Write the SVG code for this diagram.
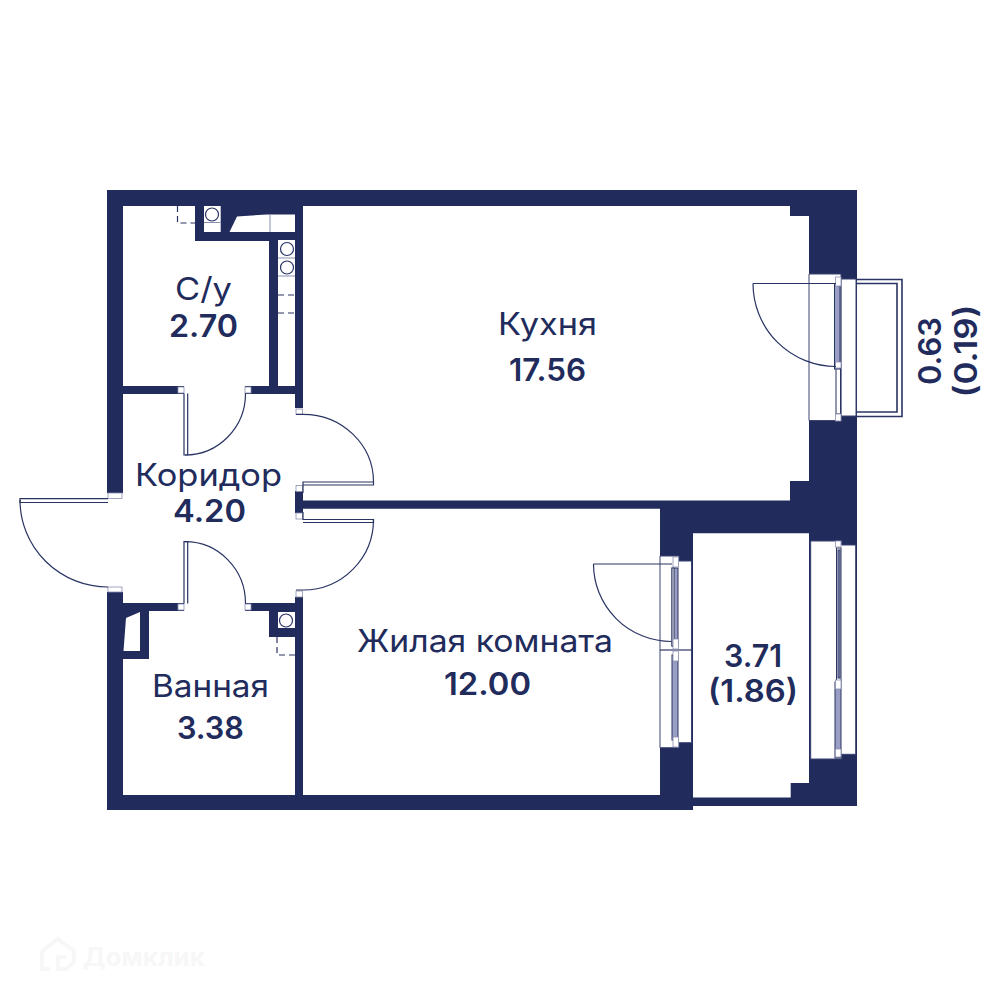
<svg xmlns="http://www.w3.org/2000/svg" width="1000" height="1000" viewBox="0 0 1000 1000">
<style>
.wall{fill:#212b5c}
.room{fill:#fff}
.ln{fill:none;stroke:#2a3463;stroke-width:1.2}
.th{fill:none;stroke:#2a3463;stroke-width:1.6}
.op{fill:#fff;stroke:#3b4472;stroke-width:1}
.sq{fill:#fff;stroke:#8a8fae;stroke-width:.8}
.leaf{fill:#9a9dc4;stroke:#2a3463;stroke-width:1}
.frame{fill:#fff;stroke:#2a3463;stroke-width:1}
.dash{fill:none;stroke:#2a3463;stroke-width:1.2;stroke-dasharray:6 4}
.sep{fill:none;stroke:#8a8fae;stroke-width:1}
text{font-family:"Inter","Liberation Sans",sans-serif;fill:#212b5c;text-anchor:middle;font-size:31px}
.n{font-weight:600}
.wm{fill:#f7f7f7;font-weight:700;font-size:25px;text-anchor:start}
</style>

<g id="walls">
<path class="wall" d="M107,190H857V806H693V810H107Z"/>
</g>

<g id="rooms">
<path id="kitchen-floor" class="room" d="M303,206H790V216H809V481H790V500.5H303Z"/>
<path id="wc-floor" class="room" d="M123,206H195V241H269V386H123Z"/>
<rect class="room" x="278" y="240" width="17" height="146"/>
<rect class="room" x="204" y="206" width="16.7" height="26"/>
<path class="room" d="M229.5,232L237,216.5L267,214.5H295V232Z"/>
<path id="corridor-floor" class="room" d="M123,394H295V603H123Z"/>
<rect class="room" x="184" y="386" width="61" height="9"/>
<rect class="room" x="184" y="602" width="61" height="10"/>
<path class="room" d="M295,408H303V491H295Z"/>
<path class="room" d="M295,513H303V597H295Z"/>
<rect class="room" x="106" y="493" width="18" height="99"/>
<path id="bath-floor" class="room" d="M123,611H295V795H123Z"/>
<path class="wall" d="M123,611H149V659H123Z"/>
<path class="room" d="M123.5,651L126,618L140,612V651Z"/>
<path class="wall" d="M269,611H295V637H269Z"/>
<rect class="room" x="278" y="612" width="17" height="16"/>
<path id="living-floor" class="room" d="M303,508.7H660V795H303Z"/>
<path id="balcony-floor" class="room" d="M693,533.3H809V783H790.7V797.5H693Z"/>
</g>

<g id="fixtures">
<path class="sep" d="M204,222.5H220.7M270,215V232M278,258H295M278,276H295"/>
<circle class="ln" cx="212" cy="214.5" r="6.5"/>
<circle class="ln" cx="287" cy="249" r="6.5"/>
<circle class="ln" cx="287" cy="267.5" r="6.5"/>
<circle class="ln" cx="286" cy="620.5" r="6.5"/>
<path class="dash" d="M177.5,206V223H195"/>
<path class="dash" d="M278,295H295M278,313H295"/>
<path class="dash" d="M277,637V655H295"/>
</g>

<g id="door-corridor-wc">
<rect class="sq" x="178" y="387" width="6" height="6"/>
<rect class="sq" x="245" y="387" width="6" height="6"/>
<path class="ln" d="M184,393.5V455H187.7V393.5"/>
<path class="ln" d="M185,455A60.5,61.5 0 0 0 245.5,393.5"/>
</g>
<g id="door-corridor-bath">
<rect class="sq" x="178" y="604" width="6" height="6"/>
<rect class="sq" x="245" y="604" width="6" height="6"/>
<path class="ln" d="M184,603.5V541.7H187.7V603.5"/>
<path class="ln" d="M185,541.7A60.5,61.5 0 0 1 245.5,603.5"/>
</g>
<g id="door-corridor-kitchen">
<rect class="sq" x="296" y="409" width="6.5" height="5.5"/>
<rect class="sq" x="296" y="485.5" width="6.5" height="6"/>
<path class="ln" d="M303,493V482H373.5V485H303"/>
<path class="ln" d="M296,414.3H303A70.5,67.7 0 0 1 373.5,482"/>
</g>
<g id="door-corridor-living">
<rect class="sq" x="296" y="513" width="6.5" height="6"/>
<rect class="sq" x="296" y="591" width="6.5" height="6"/>
<path class="ln" d="M303,512V519.5H373.5V522.5H303"/>
<path class="ln" d="M373.5,519.5A70.5,70.5 0 0 1 303,590H296"/>
</g>
<g id="door-entrance">
<rect class="sq" x="108" y="493" width="14" height="5.5"/>
<rect class="sq" x="108" y="587" width="14" height="5"/>
<path class="ln" d="M108,498.7H20V502.5H108"/>
<path class="ln" d="M20,500A88,87 0 0 0 108,587"/>
</g>

<g id="kitchen-balcony-door">
<path class="op" d="M809,274H841V279H856V416H841V420.5H809Z"/>
<path class="th" d="M856,279.5H902V416.5H856M856,283.5H897V412H856"/>
<path class="ln" d="M841,279V416"/>
<rect class="frame" x="836" y="368" width="4.5" height="46"/>
<rect class="leaf" x="834.5" y="284" width="5.5" height="85"/>
<rect class="sq" x="835.5" y="277" width="5.5" height="9"/>
<rect class="sq" x="835.5" y="362" width="5.5" height="6"/>
<rect class="sq" x="835.5" y="414" width="5.5" height="7"/>
<path class="ln" d="M753,283.5H836"/>
<path class="ln" d="M753,283.5A83,83 0 0 0 836,366.5"/>
</g>

<g id="living-balcony-door">
<path class="op" d="M660,556H679V561H691.5V742.7H679V747.7H660Z"/>
<path class="ln" d="M660,650H692"/>
<rect class="leaf" x="672" y="568" width="6" height="78"/>
<rect class="leaf" x="672" y="655" width="6" height="85"/>
<rect class="frame" x="672" y="568" width="2" height="78"/>
<rect class="sq" x="673" y="557" width="5.5" height="10"/>
<rect class="sq" x="673" y="639" width="5.5" height="10"/>
<rect class="sq" x="673" y="651" width="5.5" height="10"/>
<rect class="sq" x="673" y="737" width="5.5" height="10"/>
<path class="ln" d="M593.5,564H672"/>
<path class="ln" d="M593.5,564A78,77.5 0 0 0 671.5,641.5"/>
</g>

<g id="balcony-window">
<path class="op" d="M810.7,541H841.7V545H855.7V754.3H841.7V759H810.7Z"/>
<rect class="frame" x="836.5" y="548" width="4.5" height="133"/>
<rect class="leaf" x="838" y="550" width="2" height="128"/>
<rect class="leaf" x="835" y="682" width="6" height="76"/>
<rect class="sq" x="835.5" y="541" width="5.5" height="6"/>
<rect class="sq" x="835.5" y="680" width="5.5" height="9"/>
<rect class="sq" x="835.5" y="749" width="5.5" height="8"/>
</g>

<g id="labels">
<text x="547.5" y="335" textLength="99" lengthAdjust="spacingAndGlyphs">Кухня</text>
<text class="n" x="547.5" y="381" textLength="77" lengthAdjust="spacingAndGlyphs">17.56</text>
<text x="203.5" y="300" textLength="57" lengthAdjust="spacingAndGlyphs">С/у</text>
<text class="n" x="203.5" y="337" textLength="69" lengthAdjust="spacingAndGlyphs">2.70</text>
<text x="208.5" y="486" textLength="147" lengthAdjust="spacingAndGlyphs">Коридор</text>
<text class="n" x="209.5" y="522" textLength="73" lengthAdjust="spacingAndGlyphs">4.20</text>
<text x="210.5" y="697" textLength="117" lengthAdjust="spacingAndGlyphs">Ванная</text>
<text class="n" x="210.5" y="739" textLength="67" lengthAdjust="spacingAndGlyphs">3.38</text>
<text x="485" y="652" textLength="256" lengthAdjust="spacingAndGlyphs">Жилая комната</text>
<text class="n" x="487.5" y="695" textLength="87" lengthAdjust="spacingAndGlyphs">12.00</text>
<text class="n" x="753" y="667" textLength="58" lengthAdjust="spacingAndGlyphs">3.71</text>
<text class="n" x="753" y="702" textLength="90" lengthAdjust="spacingAndGlyphs">(1.86)</text>
<text class="n" transform="translate(941,351) rotate(-90)" textLength="68" lengthAdjust="spacingAndGlyphs">0.63</text>
<text class="n" transform="translate(977,351) rotate(-90)" textLength="93" lengthAdjust="spacingAndGlyphs">(0.19)</text>
</g>

<g id="watermark">
<path d="M42,951L58,939L74,951V962L66,969H58V957H66M50,969H42V951" fill="none" stroke="#f7f7f7" stroke-width="4"/>
<text class="wm" x="83" y="966" textLength="122" lengthAdjust="spacingAndGlyphs">Домклик</text>
</g>
</svg>
